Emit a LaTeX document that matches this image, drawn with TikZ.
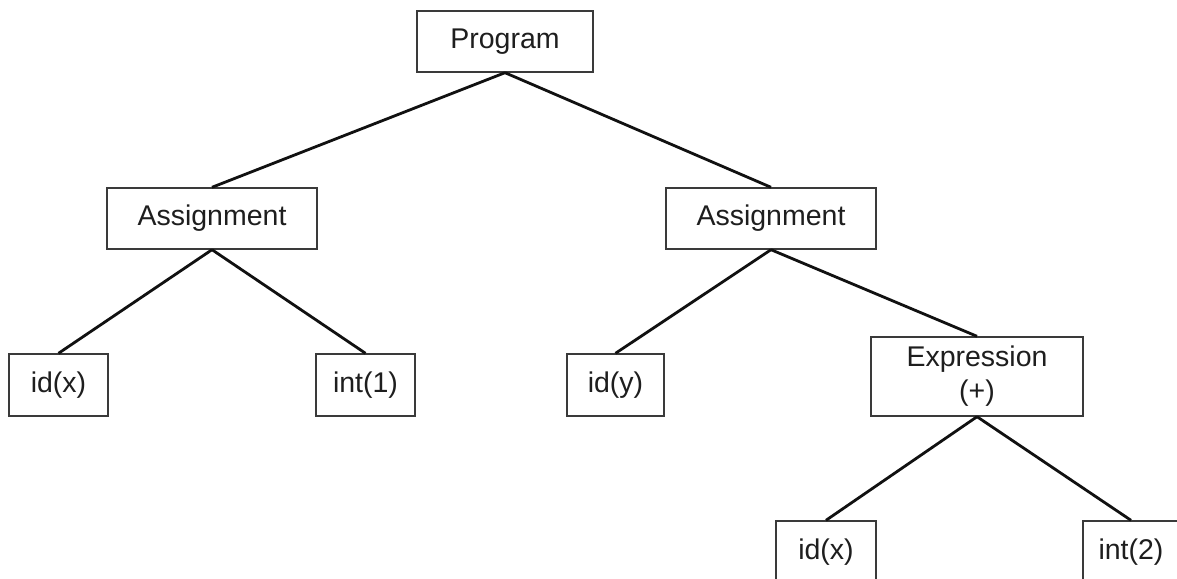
\documentclass[tikz,border=0pt]{standalone}
\usepackage{fontspec}
\setmainfont{Liberation Sans}
\definecolor{inkline}{HTML}{111111}
\definecolor{boxline}{HTML}{3A3A3A}
\definecolor{labeltext}{HTML}{1E1E1E}
\begin{document}
\begin{tikzpicture}[x=1pt,y=-1pt,
  treebox/.style={draw=boxline, line width=1.4pt, fill=white, inner sep=0pt,
    text=labeltext, font=\fontsize{28.5}{34}\selectfont, align=center},
  branch/.style={draw=inkline, line width=2.8pt}]
  \useasboundingbox (0,0) rectangle (1177,578);
  \clip (0,0) rectangle (1177,578);

  % nodes of the syntax tree
  \node[treebox, minimum width=176pt, minimum height=61pt] (prog) at (505,41.5) {Program};
  \node[treebox, minimum width=210pt, minimum height=61pt] (asl) at (212,218.5) {Assignment};
  \node[treebox, minimum width=210pt, minimum height=61pt] (asr) at (771,218.5) {Assignment};
  \node[treebox, minimum width=99pt, minimum height=62pt] (idx) at (58.5,385) {id(x)};
  \node[treebox, minimum width=99pt, minimum height=62pt] (intone) at (365.5,385) {int(1)};
  \node[treebox, minimum width=97pt, minimum height=62pt] (idy) at (615.5,385) {id(y)};
  \node[treebox, minimum width=212pt, minimum height=79pt] (expr) at (977,376.5) {Expression\\(+)};
  \node[treebox, minimum width=100pt, minimum height=62pt] (idxb) at (826,552) {id(x)};
  \node[treebox, minimum width=96pt, minimum height=62pt] (inttwo) at (1131,552) {int(2)};

  % branches from parent to child
  \draw[branch] (prog.south) -- (asl.north);
  \draw[branch] (prog.south) -- (asr.north);
  \draw[branch] (asl.south) -- (idx.north);
  \draw[branch] (asl.south) -- (intone.north);
  \draw[branch] (asr.south) -- (idy.north);
  \draw[branch] (asr.south) -- (expr.north);
  \draw[branch] (expr.south) -- (idxb.north);
  \draw[branch] (expr.south) -- (inttwo.north);
\end{tikzpicture}
\end{document}
